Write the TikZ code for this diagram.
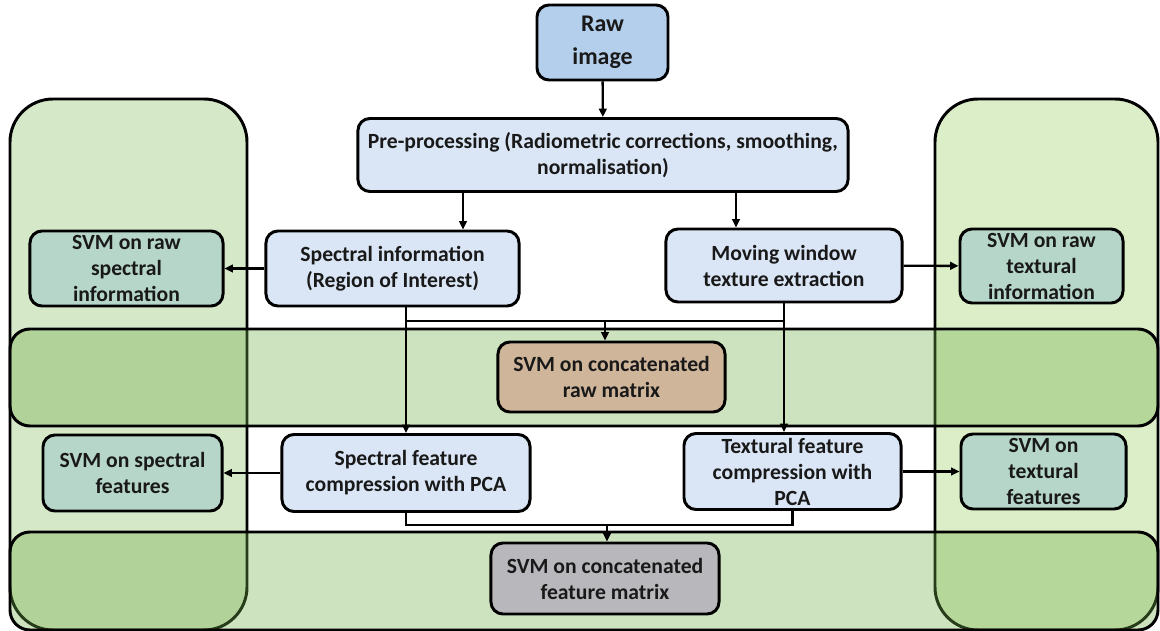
\documentclass[tikz,border=0pt]{standalone}
\usepackage{fontspec}
\setmainfont{Carlito}
\usetikzlibrary{positioning, backgrounds, arrows.meta}
\definecolor{rawblue}{HTML}{B4CFEB}
\definecolor{boxblue}{HTML}{DAE6F5}
\definecolor{svmteal}{HTML}{B6D6C9}
\definecolor{rawtan}{HTML}{CFB59A}
\definecolor{featgrey}{HTML}{B8B7BB}
\definecolor{colleft}{HTML}{D5E8C8}
\definecolor{colright}{HTML}{DBEEC7}
\definecolor{bandgreen}{HTML}{70AD47}
\tikzset{
	stepnode/.style={
			rounded corners=0.3cm,
			draw=black,
			line width=2.1pt,
			fill=boxblue,
			align=center,
			inner sep=1pt,
			text=black!90,
			font=\bfseries\fontsize{15.4}{18.5}\selectfont
		},
	rawnode/.style={
			stepnode,
			fill=rawblue,
			font=\bfseries\fontsize{17}{23.5}\selectfont
		},
	svmnode/.style={
			stepnode,
			fill=svmteal
		},
	column/.style={
			rounded corners=1.075cm,
			draw=black,
			line width=2.1pt
		},
	band/.style={
			rounded corners=0.5cm,
			draw=black,
			line width=2.1pt,
			fill=bandgreen,
			fill opacity=0.35
		},
	link/.style={
			line width=1.7pt,
			-{Triangle[length=6pt,width=5.5pt]}
		}
}

\begin{document}
\begin{tikzpicture}[x=0.025cm, y=-0.025cm]
\useasboundingbox (0,0) rectangle (1160,631);
    \node[rawnode, minimum width=3.275cm, minimum height=1.875cm] (raw) at (602.5,42.5) {Raw\\image};
    \node[stepnode, minimum width=12.25cm, minimum height=1.825cm] (pre) at (603,155) {Pre-processing (Radiometric corrections, smoothing,\\normalisation)};
    \node[stepnode, minimum width=6.325cm, minimum height=1.875cm] (specinfo) at (392.5,268.5) {Spectral information\\(Region of Interest)};
    \node[stepnode, minimum width=5.9cm, minimum height=1.825cm] (movwin) at (784,265.5) {Moving window\\texture extraction};
    \node[svmnode, minimum width=4.825cm, minimum height=1.875cm] (svmrawspec) at (126.5,268.5) {SVM on raw\\spectral\\information};
    \node[svmnode, minimum width=4.075cm, minimum height=1.85cm] (svmrawtex) at (1041.5,266) {SVM on raw\\textural\\information};
    \node[stepnode, fill=rawtan, minimum width=5.675cm, minimum height=1.75cm] (rawcat) at (611.5,377) {SVM on concatenated\\raw matrix};
    \node[stepnode, minimum width=6.2cm, minimum height=1.925cm] (specpca) at (406,473) {Spectral feature\\compression with PCA};
    \node[stepnode, minimum width=5.425cm, minimum height=1.9cm] (texpca) at (792.5,471.5) {Textural feature\\compression with\\PCA};
    \node[svmnode, minimum width=4.475cm, minimum height=1.9cm] (svmspecfeat) at (132.5,473) {SVM on spectral\\features};
    \node[svmnode, minimum width=4.125cm, minimum height=1.875cm] (svmtexfeat) at (1043.5,471.5) {SVM on\\textural\\features};
    \node[stepnode, fill=featgrey, minimum width=5.7cm, minimum height=1.775cm] (featcat) at (605,578.5) {SVM on concatenated\\feature matrix};

    \coordinate (s1) at (463,192);
    \coordinate (s2) at (736,192);
    \coordinate (j1) at (605,321);
    \coordinate (j2) at (607,525);

    % green groups behind the boxes
    \begin{scope}[on background layer]
    \draw[column, fill=colleft] (10,99) rectangle (247,630);
    \draw[column, fill=colright] (935,99) rectangle (1158,630);
    \draw[band] (10,329) rectangle (1158,426);
    \draw[band] (10,532) rectangle (1158,630);
    \end{scope}

    \draw[link] (raw) -- (pre);
    \draw[link] (s1) -- (s1 |- specinfo.north);
    \draw[link] (s2) -- (s2 |- movwin.north);
    \draw[link] (specinfo) -- (svmrawspec);
    \draw[link] (movwin) -- (svmrawtex);

    \draw[line width=1.7pt] (specinfo.south -| specpca.north) |- (j1) -| (movwin.south);
    \draw[link] (j1) -- (j1 |- rawcat.north);
    \draw[link] (specinfo.south -| specpca.north) -- (specpca.north);
    \draw[link] (movwin.south) -- (movwin.south |- texpca.north);

    \draw[link] (specpca) -- (svmspecfeat);
    \draw[link] (texpca) -- (svmtexfeat);
    \draw[line width=1.7pt] (specpca.south) |- (j2) -| (texpca.south);
    \draw[link] (j2) -- (j2 |- featcat.north);
\end{tikzpicture}
\end{document}
